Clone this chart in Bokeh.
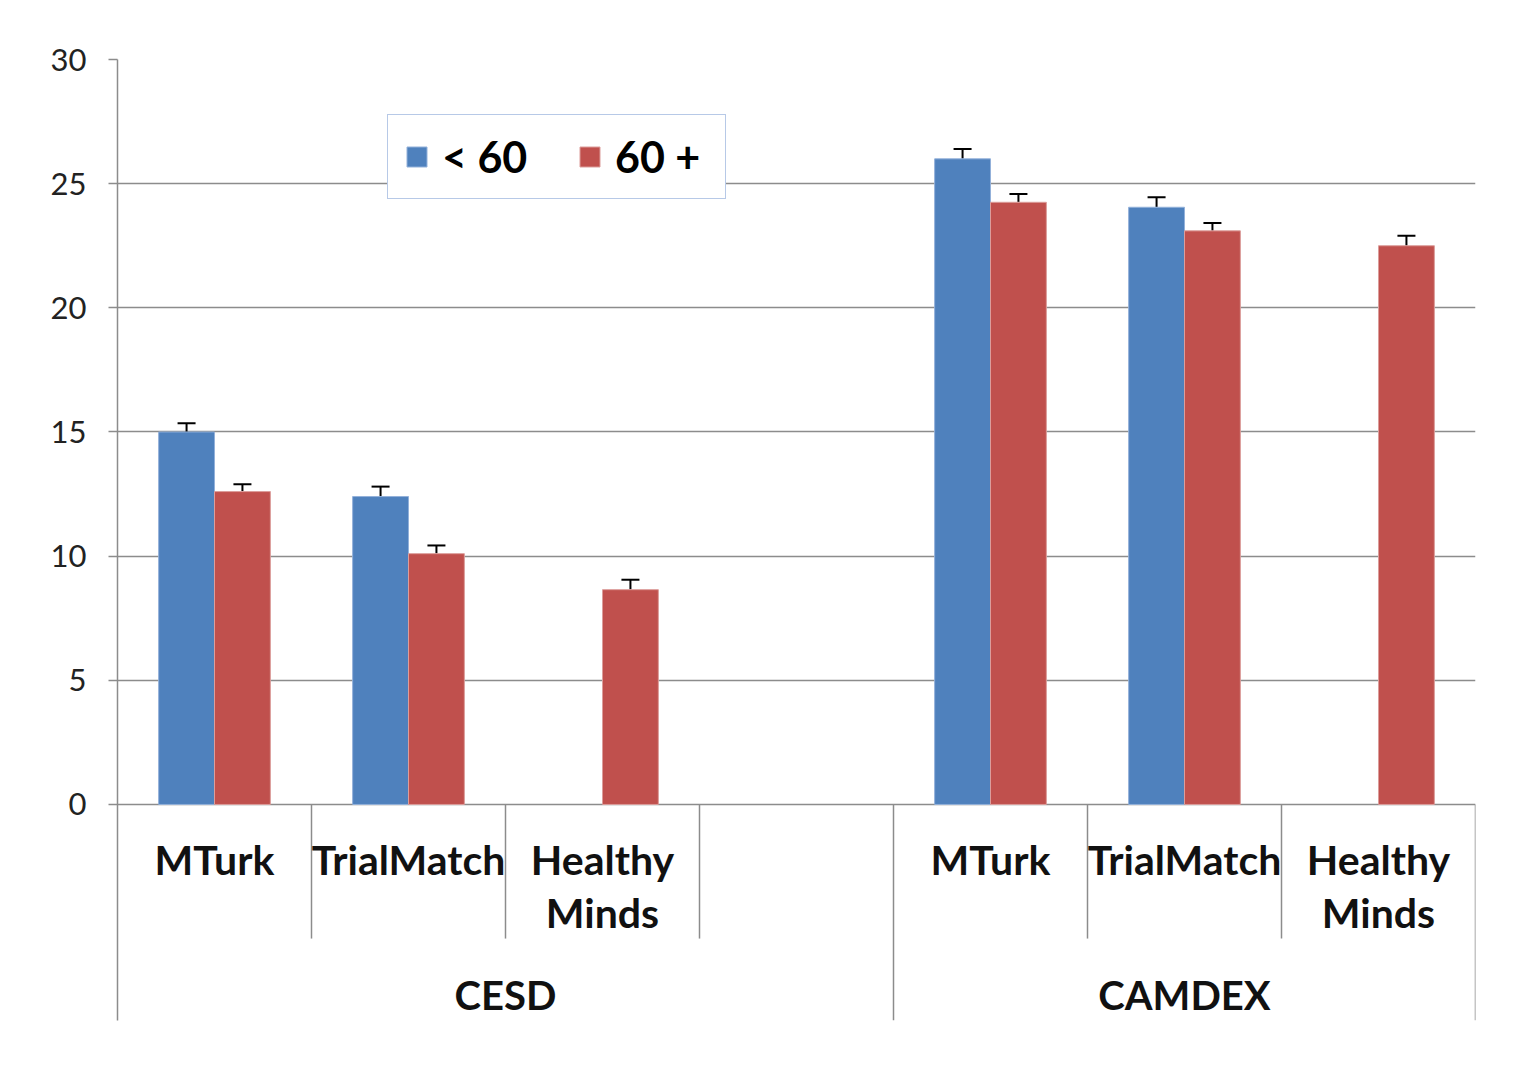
from bokeh.plotting import figure
from bokeh.models import (ColumnDataSource, Range1d, FixedTicker, Whisker, TeeHead,
                          Legend, LegendItem)
from bokeh.core.properties import value
from bokeh.embed import file_html
from bokeh.resources import INLINE
import math

# ---- data ----
groups = ["CESD", "CESD", "CESD", "CESD", "CAMDEX", "CAMDEX", "CAMDEX"]
sources = ["MTurk", "TrialMatch", "Healthy\nMinds", "", "MTurk", "TrialMatch", "Healthy\nMinds"]
under60 = [15.0, 12.4, float("nan"), float("nan"), 26.0, 24.05, float("nan")]
under60_err = [0.35, 0.4, float("nan"), float("nan"), 0.4, 0.4, float("nan")]
over60 = [12.6, 10.1, 8.65, float("nan"), 24.25, 23.1, 22.5]
over60_err = [0.3, 0.33, 0.4, float("nan"), 0.33, 0.32, 0.4]
series_names = ["< 60", "60 +"]
y_ticks = [0, 5, 10, 15, 20, 25, 30]

FONT = "Lato"
BLUE, RED = "#4F81BD", "#C0504D"
GRID = "#8c8c8c"

n = len(sources)
bar_w = 0.288

def series_source(vals, errs, offset):
    xs, tops, ups = [], [], []
    for i, (v, e) in enumerate(zip(vals, errs)):
        if math.isnan(v):
            continue
        xs.append(i + 0.5 + offset)
        tops.append(v)
        ups.append(v + e)
    return ColumnDataSource(dict(x=xs, top=tops, lower=tops, upper=ups))

src_b = series_source(under60, under60_err, -bar_w / 2)
src_r = series_source(over60, over60_err, bar_w / 2)

p = figure(width=1508, height=1069, output_backend="svg", toolbar_location=None,
           x_range=Range1d(0, n), y_range=Range1d(-8.7, 30))
p.min_border_left = 117
p.min_border_top = 59
p.min_border_right = 33
p.min_border_bottom = 49
p.outline_line_color = None
p.background_fill_color = "white"
p.border_fill_color = "white"

p.xaxis.visible = False
p.xgrid.visible = False
p.ygrid.ticker = FixedTicker(ticks=y_ticks)
p.ygrid.grid_line_color = GRID
p.ygrid.grid_line_width = 1.5

ya = p.yaxis[0]
ya.ticker = FixedTicker(ticks=y_ticks)
ya.axis_line_color = GRID
ya.axis_line_width = 1.5
ya.major_tick_line_color = GRID
ya.major_tick_line_width = 1.5
ya.major_tick_out = 9
ya.major_tick_in = 0
ya.minor_tick_line_color = None
ya.major_label_text_font = FONT
ya.major_label_text_font_size = "31px"
ya.major_label_text_color = "#222222"
ya.major_label_standoff = 22

rb = p.vbar(x="x", top="top", bottom=0, width=bar_w, source=src_b,
            fill_color=BLUE, line_color="#93b1da", line_width=1)
rr = p.vbar(x="x", top="top", bottom=0, width=bar_w, source=src_r,
            fill_color=RED, line_color="#dc9d9b", line_width=1)

for src in (src_b, src_r):
    w = Whisker(base="x", upper="upper", lower="lower", source=src,
                upper_head=TeeHead(size=18, line_color="black", line_width=2),
                lower_head=None, line_color="black", line_width=2)
    p.add_layout(w)

# category separators (Excel-like multi-level axis)
inner_x, outer_x = [], []
for i in range(1, n + 1):
    if i == n or groups[i] != groups[i - 1]:
        outer_x.append(i)
    else:
        inner_x.append(i)
p.segment(x0=inner_x, y0=[0] * len(inner_x), x1=inner_x, y1=[-5.4] * len(inner_x),
          line_color=GRID, line_width=1.5)
p.segment(x0=outer_x, y0=[0] * len(outer_x), x1=outer_x, y1=[-8.7] * len(outer_x),
          line_color=GRID, line_width=1.5)

# category labels
p.text(x=[i + 0.5 for i in range(n)], y=[-1.22] * n, text=sources,
       text_font=value(FONT), text_font_style="bold", text_font_size="41px",
       text_align="center", text_baseline="top", text_line_height=1.08,
       text_color="#111111")

# group labels
gnames, gcenters = [], []
start = 0
for i in range(1, n + 1):
    if i == n or groups[i] != groups[i - 1]:
        gnames.append(groups[start])
        gcenters.append((start + i) / 2)
        start = i
p.text(x=gcenters, y=[-7.66] * len(gnames), text=gnames,
       text_font=value(FONT), text_font_style="bold", text_font_size="40px",
       text_align="center", text_baseline="middle", text_color="#111111")

legend = Legend(items=[LegendItem(label=series_names[0], renderers=[rb]),
                       LegendItem(label=series_names[1], renderers=[rr])],
                orientation="horizontal", location=(270, 821))
legend.margin = 0
legend.padding = 16
legend.spacing = 41
legend.glyph_width = 25
legend.glyph_height = 25
legend.label_standoff = 13
legend.label_width = 94
legend.label_text_font = FONT
legend.label_text_font_style = "bold"
legend.label_text_font_size = "43px"
legend.label_text_color = "black"
legend.border_line_color = "#6f93cf"
legend.border_line_width = 1.5
legend.background_fill_color = "white"
legend.background_fill_alpha = 1.0
p.add_layout(legend, "center")

open("out.html", "w").write(file_html(p, INLINE))
